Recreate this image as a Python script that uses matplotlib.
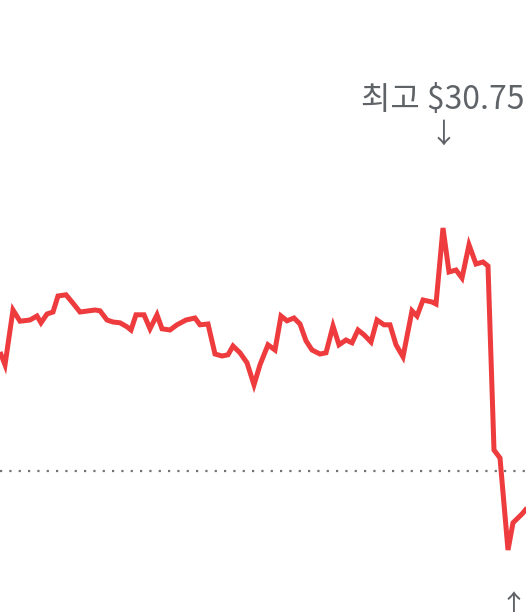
import matplotlib
matplotlib.use("Agg")
import matplotlib.pyplot as plt

# time index (trading minutes) and price
t = [0, 5, 13, 20, 30, 37, 41, 47, 53, 58, 66, 72, 80, 95, 100, 107, 113, 120,
     127, 131, 136, 144, 150, 157, 162, 170, 177, 186, 195, 200, 208, 215, 222,
     228, 233, 240, 247, 254, 260, 268, 275, 281, 287, 294, 300, 306, 312, 320,
     326, 333, 339, 346, 352, 358, 364, 371, 377, 384, 390, 396, 403, 412, 417,
     423, 432, 436, 443, 449, 456, 462, 469, 476, 483, 488, 494, 500, 508, 513,
     522, 532]
price = [27.65, 27.33, 28.70, 28.42, 28.45, 28.55, 28.38, 28.60, 28.65, 29.05,
         29.08, 28.90, 28.65, 28.70, 28.68, 28.45, 28.40, 28.38, 28.28, 28.20,
         28.58, 28.58, 28.23, 28.58, 28.23, 28.20, 28.33, 28.45, 28.50, 28.33,
         28.35, 27.60, 27.55, 27.58, 27.80, 27.63, 27.38, 26.83, 27.33, 27.83,
         27.70, 28.55, 28.43, 28.50, 28.35, 27.93, 27.70, 27.60, 27.63, 28.30,
         27.83, 27.95, 27.88, 28.20, 28.08, 27.90, 28.45, 28.33, 28.33, 27.83,
         27.53, 28.68, 28.55, 28.95, 28.90, 28.85, 30.75, 29.65, 29.70, 29.50,
         30.33, 29.85, 29.90, 29.80, 25.20, 25.00, 22.70, 23.38, 23.60, 23.90]
prev_close = 24.68
high_label = "최고 $30.75"

plt.rcParams['font.family'] = ['Noto Sans CJK KR', 'DejaVu Sans']

fig = plt.figure(figsize=(5.26, 6.12), dpi=100)
ax = fig.add_axes([0, 0, 1, 1])
ax.set_axis_off()
ax.set_xlim(0, 526)
ax.set_ylim(21.15, 36.45)

ax.axhline(prev_close, color="#70757a", lw=1.6, linestyle=(0, (1, 3.2)))
ax.plot(t, price, color="#ee3b3e", lw=3.6, solid_joinstyle="miter",
        solid_capstyle="butt")

i_hi = price.index(max(price))
ax.annotate(high_label, (t[i_hi], price[i_hi]), xytext=(0, 92),
            textcoords="offset points", ha="center", va="center",
            fontsize=23, color="#5f6368")
ax.annotate("↓", (t[i_hi], price[i_hi]), xytext=(0, 67),
            textcoords="offset points", ha="center", va="center",
            fontsize=20, color="#5f6368")

i_lo = price.index(min(price))
ax.annotate("↑", (t[i_lo], price[i_lo]), xytext=(4, -30),
            textcoords="offset points", ha="center", va="top",
            fontsize=20, color="#5f6368")

fig.savefig("out.png", dpi=100)
